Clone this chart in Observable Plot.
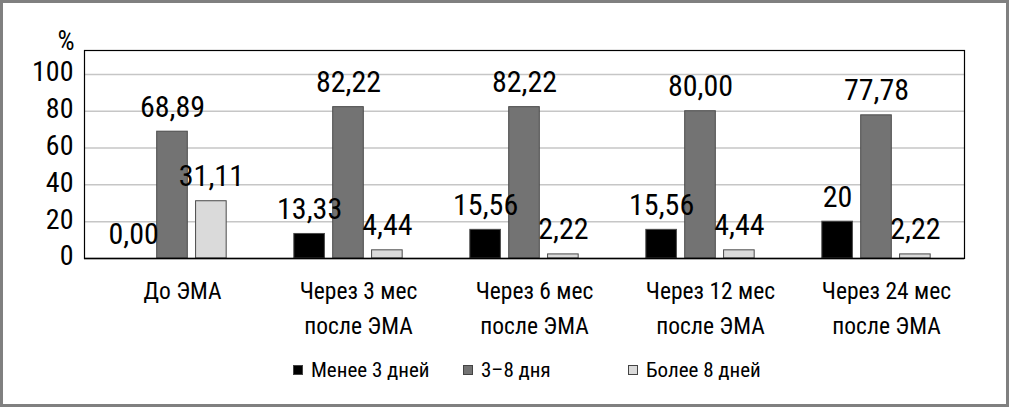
<!DOCTYPE html>
<html>
<head>
<meta charset="utf-8">
<script src="https://cdn.jsdelivr.net/npm/d3@7"></script>
<script src="https://cdn.jsdelivr.net/npm/@observablehq/plot@0.6"></script>
<style>
  html, body { margin: 0; padding: 0; background: #fff; }
  #frame {
    position: relative;
    width: 1009px; height: 407px;
    box-sizing: border-box;
    border: 3px solid #808080;
    background: #fff;
    font-family: "Roboto Condensed", "Liberation Sans Narrow", "DejaVu Sans Condensed", sans-serif;
    font-stretch: condensed;
    overflow: hidden;
  }
  #chart svg { display: block; font-stretch: condensed; }
  #legend {
    display: flex;
    padding-left: 290px;
    padding-top: 10px;
    line-height: 24px;
    font-size: 21px;
    color: #000;
  }
  .item { display: flex; align-items: center; }
  .sw { width: 10px; height: 10px; box-sizing: border-box; margin-right: 8px; border: 1px solid #444; }
</style>
</head>
<body>
<div id="frame">
  <div id="chart"></div>
  <div id="legend"></div>
</div>
<script>
const groups = ["До ЭМА", "Через 3 мес после ЭМА", "Через 6 мес после ЭМА", "Через 12 мес после ЭМА", "Через 24 мес после ЭМА"];
const groupLabels = ["До ЭМА", "Через 3 мес\nпосле ЭМА", "Через 6 мес\nпосле ЭМА", "Через 12 мес\nпосле ЭМА", "Через 24 мес\nпосле ЭМА"];
const series = ["Менее 3 дней", "3–8 дня", "Более 8 дней"];
const seriesColors = ["#000000", "#737373", "#dadada"];
const less3 = [0.00, 13.33, 15.56, 15.56, 20];
const mid38 = [68.89, 82.22, 82.22, 80.00, 77.78];
const more8 = [31.11, 4.44, 2.22, 4.44, 2.22];
const less3Labels = ["0,00", "13,33", "15,56", "15,56", "20"];
const mid38Labels = ["68,89", "82,22", "82,22", "80,00", "77,78"];
const more8Labels = ["31,11", "4,44", "2,22", "4,44", "2,22"];
const yTicks = [0, 20, 40, 60, 80, 100];

const valuesBySeries = [less3, mid38, more8];
const labelsBySeries = [less3Labels, mid38Labels, more8Labels];
const data = [];
groups.forEach((g, i) => {
  series.forEach((s, j) => {
    data.push({group: g, series: s, value: valuesBySeries[j][i], label: labelsBySeries[j][i]});
  });
});

const font = '"Roboto Condensed", "Liberation Sans Narrow", "DejaVu Sans Condensed", sans-serif';

const chart = Plot.plot({
  width: 1003,
  height: 345,
  marginLeft: 80,
  marginRight: 42,
  marginTop: 47,
  marginBottom: 90,
  style: {fontFamily: font, fontSize: "26px", color: "#000", background: "#fff", overflow: "visible"},
  fx: {domain: groups, padding: 0, label: null},
  x: {domain: series, paddingInner: 0.213, paddingOuter: 0.87, axis: null, round: false},
  y: {domain: [0, 113], label: null},
  color: {domain: series, range: seriesColors},
  marks: [
    Plot.gridY(yTicks.slice(1), {stroke: "#c6c6c6", strokeOpacity: 1, strokeWidth: 1.5}),
    Plot.axisY(yTicks, {tickSize: 0, tickPadding: 11, fontSize: 28, dy: -2, label: null}),
    Plot.axisFx({
      anchor: "bottom",
      tickSize: 0,
      tickPadding: 16,
      fontSize: 23.5,
      lineHeight: 1.47,
      dx: 10,
      tickFormat: (d) => groupLabels[groups.indexOf(d)],
      label: null
    }),
    Plot.barY(data, {fx: "group", x: "series", y: "value", fill: "series", stroke: "#4a4a4a", strokeWidth: 1}),
    Plot.text(data, {fx: "group", x: "series", y: "value", text: "label", dy: -15, lineAnchor: "bottom", fontSize: 30, fill: "#000"}),
    Plot.ruleY([0], {stroke: "#000", strokeWidth: 1.5}),
    Plot.frame({stroke: "#000", strokeWidth: 1.2, facet: "super"}),
    Plot.text(["%"], {frameAnchor: "top-left", dx: -10, dy: -1, textAnchor: "end", lineAnchor: "bottom", fontSize: 27, fill: "#000", facet: "super"})
  ]
});
document.getElementById("chart").appendChild(chart);

const legend = document.getElementById("legend");
const widths = [170, 165, null];
series.forEach((s, i) => {
  const item = document.createElement("div");
  item.className = "item";
  if (widths[i]) item.style.width = widths[i] + "px";
  const sw = document.createElement("span");
  sw.className = "sw";
  sw.style.background = seriesColors[i];
  const t = document.createElement("span");
  t.textContent = s;
  item.appendChild(sw);
  item.appendChild(t);
  legend.appendChild(item);
});
</script>
</body>
</html>
